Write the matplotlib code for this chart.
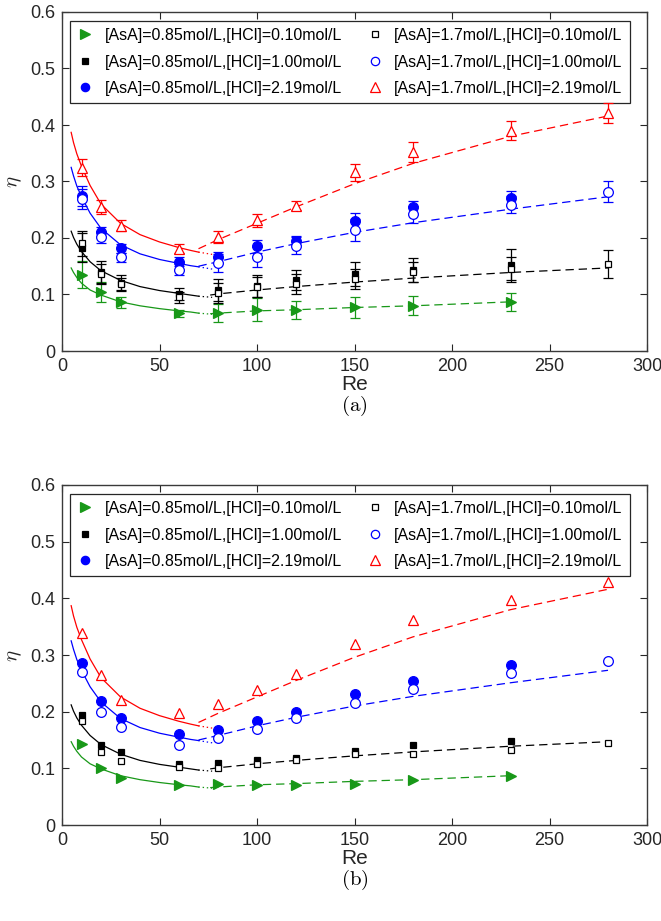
import numpy as np
import matplotlib
matplotlib.use('Agg')
import matplotlib.pyplot as plt
from matplotlib.lines import Line2D

plt.rcParams['font.family'] = ['Liberation Sans', 'DejaVu Sans']
plt.rcParams['mathtext.fontset'] = 'cm'
plt.rcParams['lines.scale_dashes'] = False

# Reynolds numbers of the measurements
re_all = [10, 20, 30, 60, 80, 100, 120, 150, 180, 230, 280]
re_085 = re_all[:10]

labels = ['[AsA]=0.85mol/L,[HCl]=0.10mol/L',
          '[AsA]=0.85mol/L,[HCl]=1.00mol/L',
          '[AsA]=0.85mol/L,[HCl]=2.19mol/L',
          '[AsA]=1.7mol/L,[HCl]=0.10mol/L',
          '[AsA]=1.7mol/L,[HCl]=1.00mol/L',
          '[AsA]=1.7mol/L,[HCl]=2.19mol/L']

# panel (a): measured efficiency with error bars
eta_a_g = [0.135, 0.104, 0.086, 0.067, 0.067, 0.073, 0.072, 0.077, 0.080, 0.086]
err_a_g = [0.024, 0.018, 0.010, 0.006, 0.016, 0.020, 0.016, 0.018, 0.017, 0.016]
eta_a_ks = [0.183, 0.140, 0.121, 0.101, 0.108, 0.115, 0.126, 0.136, 0.143, 0.153]
err_a_ks = [0.025, 0.020, 0.013, 0.010, 0.020, 0.019, 0.018, 0.021, 0.021, 0.027]
eta_a_bc = [0.274, 0.211, 0.182, 0.158, 0.166, 0.185, 0.195, 0.230, 0.254, 0.270]
err_a_bc = [0.018, 0.008, 0.008, 0.008, 0.010, 0.012, 0.008, 0.015, 0.012, 0.013]
eta_a_os = [0.191, 0.136, 0.118, 0.095, 0.103, 0.113, 0.119, 0.127, 0.140, 0.145, 0.154]
err_a_os = [0.022, 0.018, 0.012, 0.010, 0.018, 0.018, 0.018, 0.018, 0.018, 0.022, 0.025]
eta_a_oc = [0.269, 0.202, 0.166, 0.144, 0.156, 0.166, 0.186, 0.214, 0.242, 0.259, 0.282]
err_a_oc = [0.018, 0.010, 0.008, 0.010, 0.016, 0.018, 0.015, 0.020, 0.015, 0.015, 0.018]
eta_a_ot = [0.324, 0.255, 0.222, 0.181, 0.202, 0.231, 0.257, 0.316, 0.352, 0.390, 0.421]
err_a_ot = [0.015, 0.012, 0.009, 0.008, 0.010, 0.011, 0.008, 0.015, 0.018, 0.017, 0.018]

# panel (b): model values, no error bars
eta_b_g = [0.143, 0.100, 0.083, 0.071, 0.072, 0.071, 0.070, 0.072, 0.079, 0.086]
eta_b_ks = [0.194, 0.141, 0.128, 0.107, 0.109, 0.115, 0.119, 0.130, 0.141, 0.149]
eta_b_bc = [0.286, 0.219, 0.188, 0.160, 0.168, 0.184, 0.200, 0.232, 0.254, 0.282]
eta_b_os = [0.183, 0.129, 0.113, 0.102, 0.100, 0.107, 0.115, 0.126, 0.126, 0.132, 0.145]
eta_b_oc = [0.270, 0.200, 0.173, 0.142, 0.153, 0.169, 0.189, 0.216, 0.240, 0.269, 0.290]
eta_b_ot = [0.339, 0.265, 0.220, 0.197, 0.213, 0.238, 0.266, 0.320, 0.362, 0.397, 0.428]

# fitted curves, low Re part (solid)
fit_re_lo = [4.7, 5.9, 7.6, 10, 14.4, 20, 30, 40, 50, 60, 66, 70]
fit_r_lo = [0.387, 0.369, 0.349, 0.327, 0.293, 0.260, 0.226, 0.206, 0.193, 0.183, 0.178, 0.175]
fit_b_lo = [0.325, 0.310, 0.292, 0.273, 0.244, 0.217, 0.188, 0.172, 0.162, 0.155, 0.151, 0.149]
fit_k_lo = [0.212, 0.201, 0.189, 0.176, 0.158, 0.142, 0.125, 0.114, 0.107, 0.102, 0.099, 0.097]
fit_g_lo = [0.147, 0.139, 0.130, 0.120, 0.108, 0.099, 0.087, 0.080, 0.075, 0.071, 0.069, 0.067]
# dotted continuation
fit_re_dot = [70, 77]
fit_r_dot = [0.175, 0.171]
fit_b_dot = [0.149, 0.145]
fit_k_dot = [0.097, 0.095]
fit_g_dot = [0.067, 0.065]
# high Re part (dashed)
fit_re_hi = [70, 80, 100, 120, 150, 180, 230, 280]
fit_re_hi_k = [76, 80, 100, 120, 150, 180, 230, 280]
fit_re_hi_g = [76, 80, 100, 120, 150, 180, 230]
fit_r_hi = [0.181, 0.197, 0.226, 0.255, 0.296, 0.332, 0.380, 0.416]
fit_b_hi = [0.150, 0.158, 0.175, 0.190, 0.210, 0.227, 0.251, 0.273]
fit_k_hi = [0.099, 0.101, 0.108, 0.114, 0.122, 0.129, 0.139, 0.147]
fit_g_hi = [0.066, 0.067, 0.071, 0.073, 0.077, 0.080, 0.087]

GREEN = '#189818'
W, H = 661, 921


def draw_series(ax, x, y, yerr, marker, color, face, ms, z):
    if yerr is not None:
        ax.errorbar(x, y, yerr=yerr, fmt='none', ecolor=color, elinewidth=0.9,
                    capsize=3.4, capthick=0.9, zorder=z)
    ax.plot(x, y, ls='none', marker=marker, color=color, mfc=face, mec=color,
            ms=ms, mew=0.9, zorder=z + 0.5)


def draw_fits(ax):
    lows = [fit_r_lo, fit_b_lo, fit_k_lo, fit_g_lo]
    dots = [fit_r_dot, fit_b_dot, fit_k_dot, fit_g_dot]
    highs = [(fit_re_hi, fit_r_hi), (fit_re_hi, fit_b_hi),
             (fit_re_hi_k, fit_k_hi), (fit_re_hi_g, fit_g_hi)]
    cols = ['r', 'b', 'k', GREEN]
    for lo, dt, (xh, yh), c in zip(lows, dots, highs, cols):
        ax.plot(fit_re_lo, lo, color=c, lw=0.9, zorder=2)
        ax.plot(fit_re_dot, dt, color=c, lw=0.9, ls=(0, (1, 2)), zorder=2)
        ax.plot(xh, yh, color=c, lw=0.9, ls=(0, (6, 3.5)), zorder=2)


def setup(ax):
    ax.set_xlim(0, 300)
    ax.set_ylim(0, 0.6)
    ax.set_xticks(np.arange(0, 301, 50))
    ax.set_yticks(np.arange(0, 0.61, 0.1))
    ax.set_yticklabels(['0', '0.1', '0.2', '0.3', '0.4', '0.5', '0.6'])
    ax.tick_params(direction='in', top=True, right=True, length=5, width=0.8,
                   labelsize=13, colors='#262626', pad=5)
    for s in ax.spines.values():
        s.set_color('#3a3a3a')
        s.set_linewidth(1.0)
    handles = [
        Line2D([], [], ls='none', marker='>', color=GREEN, mfc=GREEN, ms=7, mew=0.9),
        Line2D([], [], ls='none', marker='s', color='k', mfc='k', ms=4.5, mew=0.9),
        Line2D([], [], ls='none', marker='o', color='b', mfc='b', ms=6, mew=0.9),
        Line2D([], [], ls='none', marker='s', color='k', mfc='white', ms=4.5, mew=0.9),
        Line2D([], [], ls='none', marker='o', color='b', mfc='white', ms=6, mew=0.9),
        Line2D([], [], ls='none', marker='^', color='r', mfc='white', ms=7, mew=0.9),
    ]
    leg = ax.legend(handles, labels, ncol=2, loc='upper left',
                    bbox_to_anchor=(0.0135, 0.974),
                    fontsize=11.5, handlelength=1.0, handletextpad=0.72,
                    labelspacing=0.72, borderpad=0.45, columnspacing=1.55,
                    fancybox=False, edgecolor='#262626', framealpha=1,
                    borderaxespad=0)
    leg.get_frame().set_linewidth(0.9)


def panel(ax, data, errs):
    draw_fits(ax)
    styles = [('>', GREEN, GREEN, 7.5, re_085),
              ('s', 'k', 'k', 5.0, re_085),
              ('o', 'b', 'b', 7.0, re_085),
              ('s', 'k', 'white', 5.0, re_all),
              ('o', 'b', 'white', 7.0, re_all),
              ('^', 'r', 'white', 7.5, re_all)]
    for i, ((m, c, f, ms, x), y, e) in enumerate(zip(styles, data, errs)):
        draw_series(ax, x, y, e, m, c, f, ms, 3 + i)
    setup(ax)


fig = plt.figure(figsize=(W / 100, H / 100), dpi=100)
ax1 = fig.add_axes([62 / W, 1 - 351 / H, 585 / W, 339 / H])
ax2 = fig.add_axes([62 / W, 1 - 825 / H, 585 / W, 340 / H])

panel(ax1, [eta_a_g, eta_a_ks, eta_a_bc, eta_a_os, eta_a_oc, eta_a_ot],
      [err_a_g, err_a_ks, err_a_bc, err_a_os, err_a_oc, err_a_ot])
panel(ax2, [eta_b_g, eta_b_ks, eta_b_bc, eta_b_os, eta_b_oc, eta_b_ot],
      [None] * 6)

for ax, ytop, tag in [(ax1, 0, '(a)'), (ax2, 474, '(b)')]:
    fig.text(354.5 / W, 1 - (ytop + 384) / H, 'Re', ha='center', va='center',
             fontsize=15, color='#262626')
    fig.text(354.5 / W, 1 - (ytop + 406) / H, r'$\mathrm{' + tag + '}$',
             ha='center', va='center', fontsize=15)
    fig.text(15 / W, 1 - (ytop + 182) / H, r'$\eta$', rotation=90,
             ha='center', va='center', fontsize=15, color='#262626')

fig.savefig('out.png', dpi=100)
